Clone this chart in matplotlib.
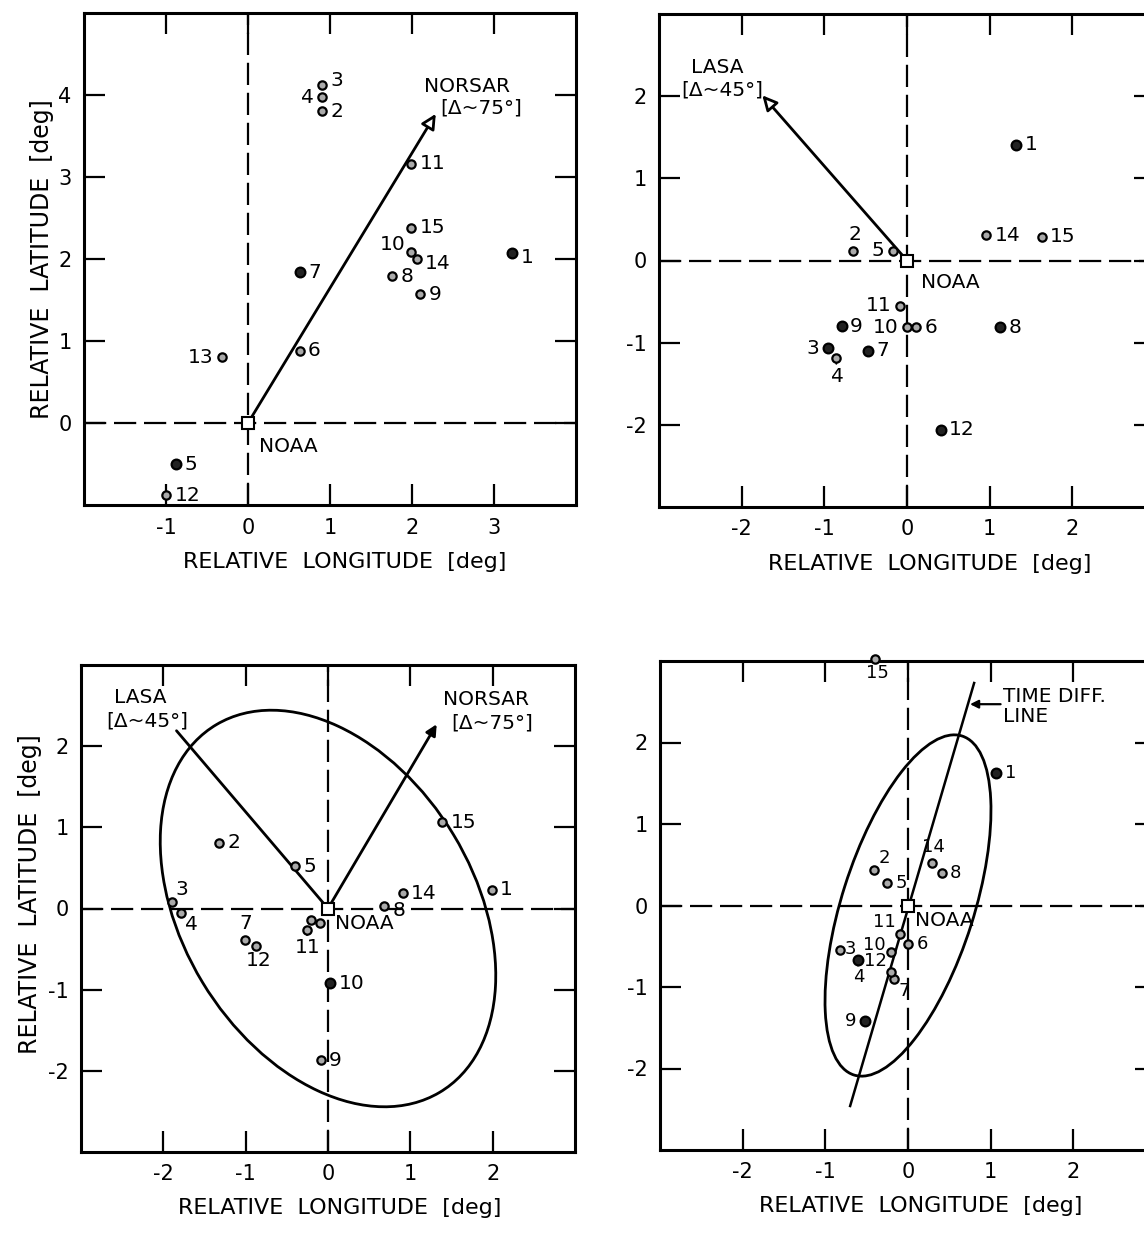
import matplotlib
matplotlib.use("Agg")
import matplotlib.pyplot as plt
from matplotlib.patches import Ellipse

plt.rcParams['font.family'] = ['DejaVu Sans']
plt.rcParams['axes.unicode_minus'] = False

# ---------------- data ----------------
# Panel 1 (top-left)
p1_ids = ['1', '2', '3', '4', '5', '6', '7', '8', '9', '10', '11', '12', '13', '14', '15']
p1_x = [3.22, 0.90, 0.90, 0.90, -0.88, 0.63, 0.63, 1.76, 2.10, 1.99, 1.99, -1.00, -0.32, 2.06, 1.99]
p1_y = [2.07, 3.80, 4.12, 3.97, -0.50, 0.88, 1.84, 1.79, 1.57, 2.09, 3.16, -0.88, 0.80, 2.00, 2.38]
p1_filled = ['1', '5', '7']
p1_norsar = [2.29, 3.77]

# Panel 2 (top-right)
p2_ids = ['1', '2', '3', '4', '5', '6', '7', '8', '9', '10', '11', '12', '14', '15']
p2_x = [1.32, -0.65, -0.96, -0.86, -0.17, 0.11, -0.47, 1.13, -0.79, 0.00, -0.09, 0.41, 0.96, 1.63]
p2_y = [1.41, 0.12, -1.07, -1.19, 0.12, -0.81, -1.10, -0.81, -0.80, -0.81, -0.55, -2.06, 0.31, 0.29]
p2_filled = ['1', '3', '7', '8', '9', '12']
p2_lasa = [-1.75, 2.01]

# Panel 3 (bottom-left)
p3_ids = ['1', '2', '3', '4', '5', '6', '7', '8', '9', '10', '11', '12', '13', '14', '15']
p3_x = [1.99, -1.32, -1.90, -1.79, -0.40, -0.10, -1.01, 0.68, -0.09, 0.03, -0.26, -0.88, -0.21, 0.91, 1.39]
p3_y = [0.23, 0.81, 0.08, -0.05, 0.52, -0.18, -0.39, 0.03, -1.87, -0.92, -0.26, -0.46, -0.14, 0.19, 1.06]
p3_filled = ['10']
p3_lasa = [-1.84, 2.19]
p3_norsar = [1.32, 2.27]
p3_ellipse = dict(center=(0.0, 0.0), width=5.28, height=3.55, angle=120.8)

# Panel 4 (bottom-right)
p4_ids = ['1', '2', '3', '4', '5', '6', '7', '8', '9', '10', '11', '12', '14', '15']
p4_x = [1.07, -0.41, -0.82, -0.61, -0.25, 0.00, -0.17, 0.41, -0.52, -0.20, -0.10, -0.21, 0.29, -0.40]
p4_y = [1.62, 0.44, -0.55, -0.67, 0.28, -0.47, -0.90, 0.40, -1.42, -0.57, -0.35, -0.82, 0.52, 3.03]
p4_filled = ['1', '4', '9']
p4_ellipse = dict(center=(0.0, 0.0), width=4.36, height=1.60, angle=72.6)
p4_tdl_x = [-0.70, 0.80]
p4_tdl_y = [-2.46, 2.73]

x_label = 'RELATIVE  LONGITUDE  [deg]'
y_label = 'RELATIVE  LATITUDE  [deg]'

# ---------------- style helpers ----------------
W, H = 1144, 1236
fig = plt.figure(figsize=(W / 100, H / 100), dpi=100)
fig.patch.set_facecolor('white')


def make_axes(left, top, w, h):
    return fig.add_axes([left / W, 1 - (top + h) / H, w / W, h / H])


LW_SPINE = 2.2
FS_TICK = 15
FS_LAB = 16
FS_YLAB = 17
FS_PT = 14.5


def setup(ax, xlim, ylim, xt, yt, xlabel_x, ylabel_pos=None):
    ax.set_xlim(*xlim)
    ax.set_ylim(*ylim)
    ax.set_xticks(xt)
    ax.set_yticks(yt)
    ax.set_xticklabels([str(v) for v in xt])
    ax.set_yticklabels([str(v) for v in yt])
    ax.tick_params(direction='in', length=15, width=1.6, top=True, right=True,
                   labelsize=FS_TICK, pad=9)
    for s in ax.spines.values():
        s.set_linewidth(LW_SPINE)
    ax.axhline(0, color='black', lw=1.6, dashes=(10, 3.5), zorder=1)
    ax.axvline(0, color='black', lw=1.6, dashes=(10, 3.5), zorder=1)
    ax.set_xlabel(x_label, fontsize=FS_LAB)
    ax.xaxis.set_label_coords(xlabel_x, -0.095)
    if ylabel_pos is not None:
        ax.set_ylabel(y_label, fontsize=FS_YLAB)
        ax.yaxis.set_label_coords(*ylabel_pos)


OFFS = {
    'r': ((6, 0), 'left', 'center'),
    'rs': ((3, 1), 'left', 'center'),
    'rd': ((6, -3), 'left', 'center'),
    'ru': ((6, 3), 'left', 'center'),
    'l': ((-6, 0), 'right', 'center'),
    'lu': ((-4, 5), 'right', 'center'),
    'a': ((1, 5), 'center', 'bottom'),
    'b': ((2, -4), 'center', 'top'),
    'ar': ((3, 2), 'left', 'bottom'),
    'br': ((3, -2), 'left', 'top'),
    'al': ((-3, 2), 'right', 'bottom'),
    'bl': ((-3, -2), 'right', 'top'),
    'bb': ((1, -6), 'center', 'top'),
    '': None,
}


def draw_points(ax, ids, xs, ys, filled, places, connect=(), fs=FS_PT):
    for pid, x, y in zip(ids, xs, ys):
        fc = '#222222' if pid in filled else '#aaaaaa'
        ms = 7 if pid in filled else 6
        ax.plot([x], [y], 'o', ms=ms, mfc=fc, mec='black', mew=1.6, zorder=5, clip_on=False)
        pl = places.get(pid, 'r')
        if not pl:
            continue
        (dx, dy), ha, va = OFFS[pl]
        kw = dict(xytext=(dx, dy), textcoords='offset points', ha=ha, va=va,
                  fontsize=fs, annotation_clip=False)
        if pid in connect:
            kw['arrowprops'] = dict(arrowstyle='-', lw=1.3, color='black',
                                    shrinkA=0, shrinkB=2)
        ax.annotate(pid, (x, y), **kw)


def noaa(ax, dx=8, dy=-10):
    ax.plot([0], [0], 's', ms=8, mfc='white', mec='black', mew=1.5, zorder=6)
    ax.annotate('NOAA', (0, 0), xytext=(dx, dy), textcoords='offset points',
                ha='left', va='top', fontsize=FS_PT)


def arrow(ax, tip, head=True, fc='white', ms=22):
    style = '-|>' if head else '-'
    ax.annotate('', xy=tip, xytext=(0, 0),
                arrowprops=dict(arrowstyle=style, lw=2.0, color='black', fc=fc,
                                mutation_scale=ms, shrinkA=4, shrinkB=0), zorder=4)


# ---------------- panel 1 ----------------
ax1 = make_axes(84, 13, 492, 492)
setup(ax1, (-2, 4), (-1, 5), [-1, 0, 1, 2, 3], [0, 1, 2, 3, 4], 0.53, ylabel_pos=(-0.06, 0.5))
arrow(ax1, p1_norsar, fc='white')
noaa(ax1)
p1_places = {'1': 'rd', '3': 'ru', '4': 'l', '10': 'lu', '13': 'l', '14': 'rd'}
draw_points(ax1, p1_ids, p1_x, p1_y, p1_filled, p1_places)
ax1.text(2.67, 4.10, 'NORSAR', ha='center', va='center', fontsize=FS_PT)
ax1.text(2.84, 3.84, '[Δ~75°]', ha='center', va='center', fontsize=FS_PT)

# ---------------- panel 2 ----------------
ax2 = make_axes(659, 14, 496, 493)
setup(ax2, (-3, 3), (-3, 3), [-2, -1, 0, 1, 2], [-2, -1, 0, 1, 2], 0.545)
arrow(ax2, p2_lasa, fc='white')
noaa(ax2, dx=10, dy=-9)
p2_places = {'2': 'a', '3': 'l', '4': 'bb', '5': 'l', '10': 'l', '11': 'l'}
draw_points(ax2, p2_ids, p2_x, p2_y, p2_filled, p2_places, connect=('4',))
ax2.text(-2.30, 2.35, 'LASA', ha='center', va='center', fontsize=FS_PT)
ax2.text(-2.24, 2.07, '[Δ~45°]', ha='center', va='center', fontsize=FS_PT)

# ---------------- panel 3 ----------------
ax3 = make_axes(81, 665, 494, 487)
setup(ax3, (-3, 3), (-3, 3), [-2, -1, 0, 1, 2], [-2, -1, 0, 1, 2], 0.524,
      ylabel_pos=(-0.078, 0.53))
ax3.add_patch(Ellipse(p3_ellipse['center'], p3_ellipse['width'], p3_ellipse['height'],
                      angle=p3_ellipse['angle'], fill=False, lw=2.0, ec='black', zorder=3))
arrow(ax3, p3_lasa, head=False)
arrow(ax3, p3_norsar, fc='black', ms=16)
noaa(ax3, dx=5, dy=-4)
p3_places = {'3': 'ar', '4': 'br', '7': 'a', '12': 'b', '8': 'rd', '6': '', '13': '', '11': 'bb'}
draw_points(ax3, p3_ids, p3_x, p3_y, p3_filled, p3_places, connect=('11',))
ax3.text(-2.28, 2.60, 'LASA', ha='center', va='center', fontsize=FS_PT)
ax3.text(-2.19, 2.31, '[Δ~45°]', ha='center', va='center', fontsize=FS_PT)
ax3.text(1.92, 2.58, 'NORSAR', ha='center', va='center', fontsize=FS_PT)
ax3.text(1.99, 2.28, '[Δ~75°]', ha='center', va='center', fontsize=FS_PT)

# ---------------- panel 4 ----------------
ax4 = make_axes(660, 661, 496, 489)
setup(ax4, (-3, 3), (-3, 3), [-2, -1, 0, 1, 2], [-2, -1, 0, 1, 2], 0.526)
ax4.add_patch(Ellipse(p4_ellipse['center'], p4_ellipse['width'], p4_ellipse['height'],
                      angle=p4_ellipse['angle'], fill=False, lw=2.0, ec='black', zorder=3))
ax4.plot(p4_tdl_x, p4_tdl_y, color='black', lw=1.8, zorder=3)
noaa(ax4, dx=5, dy=-4)
p4_places = {'15': 'b', '2': 'ar', '14': 'a', '4': 'bb', '10': 'lu', '11': 'al',
             '12': 'al', '7': 'br', '9': 'l', '3': 'rs'}
draw_points(ax4, p4_ids, p4_x, p4_y, p4_filled, p4_places, connect=('4',), fs=13)
ax4.annotate('', xy=(0.75, 2.47), xytext=(1.12, 2.47),
             arrowprops=dict(arrowstyle='-|>', lw=1.6, color='black', fc='black',
                             mutation_scale=12, shrinkA=0, shrinkB=0))
ax4.text(1.15, 2.57, 'TIME DIFF.', ha='left', va='center', fontsize=FS_PT)
ax4.text(1.15, 2.32, 'LINE', ha='left', va='center', fontsize=FS_PT)

fig.savefig('out.png', dpi=100, facecolor='white')
